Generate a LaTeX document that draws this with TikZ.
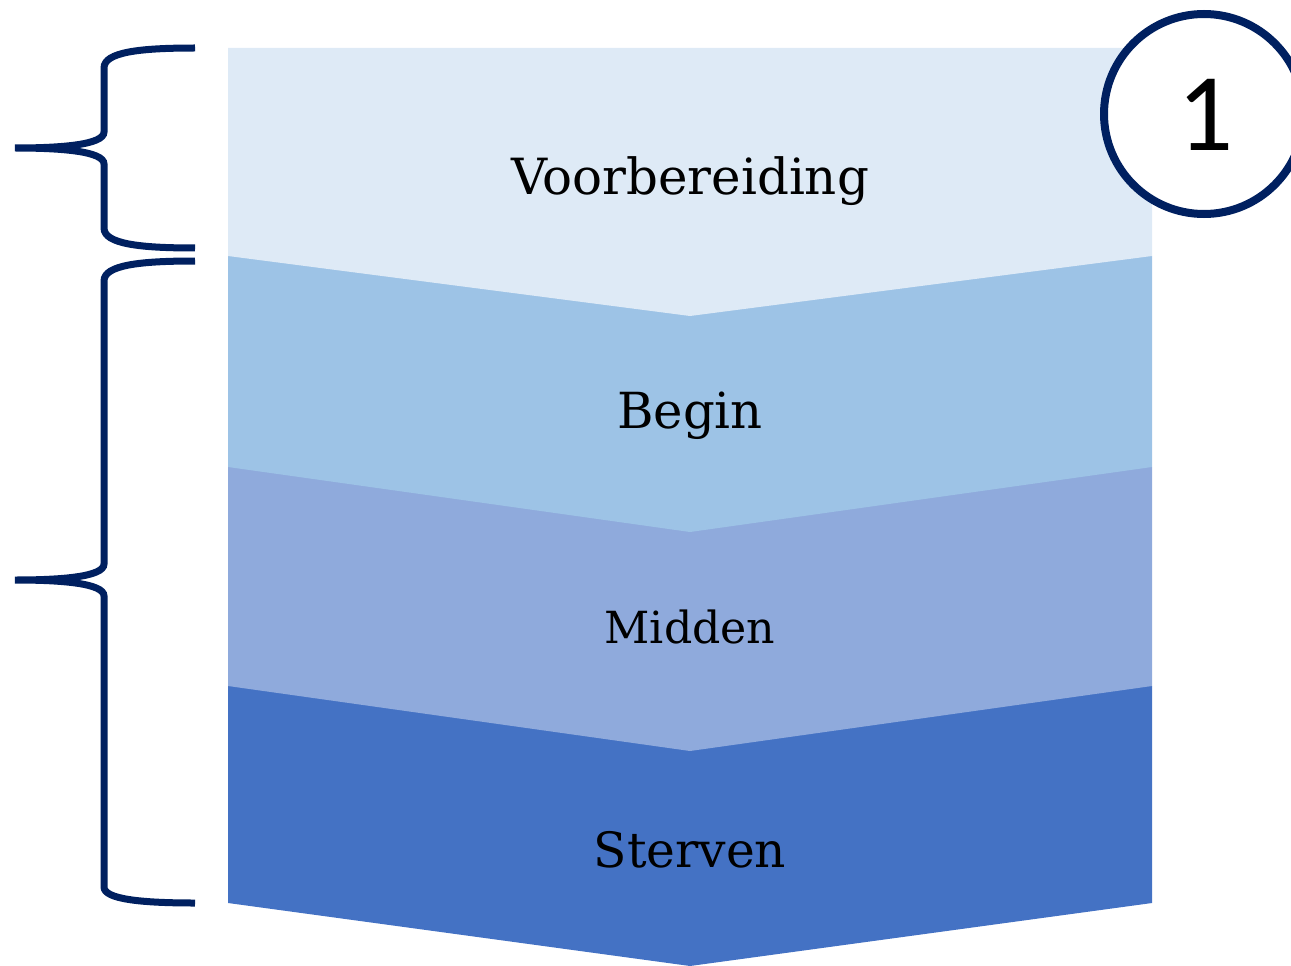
\documentclass[tikz,border=0pt]{standalone}
\usepackage{fontspec}
\setmainfont{DejaVu Serif}
\newfontfamily\numfont{Carlito}
\definecolor{lvA}{HTML}{DEEAF6}
\definecolor{lvB}{HTML}{9DC3E6}
\definecolor{lvC}{HTML}{8FAADC}
\definecolor{lvD}{HTML}{4472C4}
\definecolor{navy}{HTML}{002060}
\begin{document}
\begin{tikzpicture}[x=0.75pt,y=-0.75pt,
  band/.style={draw=none},
  lbl/.style={anchor=base,inner sep=0pt,text=black},
  brace/.style={draw=navy,line width=5.25pt,line join=miter,fill=none},
  badge/.style={circle,draw=navy,line width=6pt,fill=white,minimum size=200*0.75pt,inner sep=0pt}]
\useasboundingbox (0,0) rectangle (1291,966);
% bands (drawn bottom to top so the upper chevron covers the next)
\fill[lvD,band] (228,686) -- (1152,686) -- (1152,903) -- (690,966) -- (228,903) -- cycle;
\fill[lvC,band] (228,467) -- (1152,467) -- (1152,686) -- (690,751) -- (228,686) -- cycle;
\fill[lvB,band] (228,256) -- (1152,256) -- (1152,467) -- (690,532) -- (228,467) -- cycle;
\fill[lvA,band] (228,48) -- (1152,48) -- (1152,256) -- (690,316) -- (228,256) -- cycle;
% labels
\node[lbl,font=\fontsize{37.4}{37.4}\selectfont] (t1) at (690,195) {Voorbereiding};
\node[lbl,font=\fontsize{37.3}{37.3}\selectfont] (t2) at (690,428) {Begin};
\node[lbl,font=\fontsize{33.2}{33.2}\selectfont] (t3) at (690,643) {Midden};
\node[lbl,font=\fontsize{36.5}{36.5}\selectfont] (t4) at (690,867) {Sterven};
% braces
\draw[brace] (195,48) .. controls (140,48) and (104,52) .. (104,68) -- (104,132)
  .. controls (104,145) and (60,148) .. (15,148)
  .. controls (60,148) and (104,151) .. (104,164) -- (104,228)
  .. controls (104,244) and (140,248) .. (195,248);
\draw[brace] (195,261) .. controls (140,261) and (104,265) .. (104,281) -- (104,564)
  .. controls (104,577) and (60,580) .. (15,580)
  .. controls (60,580) and (104,583) .. (104,596) -- (104,887)
  .. controls (104,899) and (140,903) .. (195,903);
% number badge
\node[badge] (num) at (1204,114) {};
\node[inner sep=0pt,font=\numfont\fontsize{83}{83}\selectfont] (numtxt) at (1206,115) {1};
\end{tikzpicture}
\end{document}
